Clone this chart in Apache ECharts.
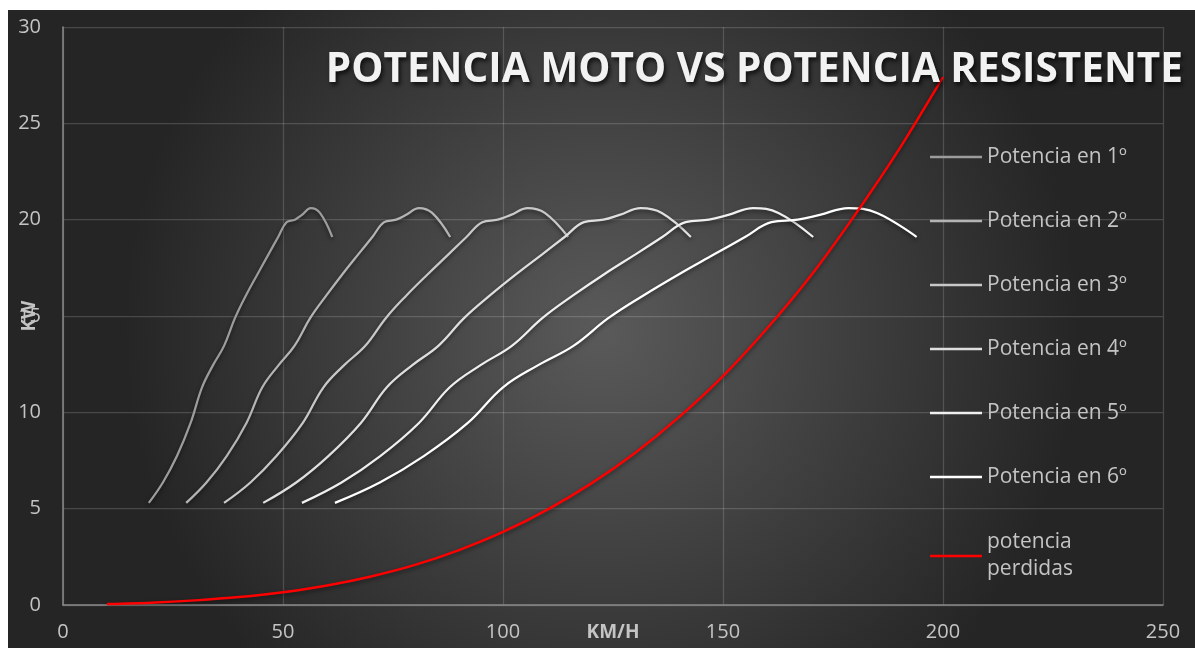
<!DOCTYPE html>
<html>
<head>
<meta charset="utf-8">
<script src="https://cdn.jsdelivr.net/npm/echarts@6/dist/echarts.min.js"></script>
<style>
  html, body { margin: 0; padding: 0; background: #ffffff; }
  #chart { position: absolute; left: 8px; top: 10px; width: 1187px; height: 638px; }
</style>
</head>
<body>
<div id="chart"></div>
<script>
// Engine power (kW) along the rev range, shared by every gear
const potenciaKW = [5.3, 6.36, 7.73, 9.45, 11.3, 12.45, 13.45, 14.9, 16.08, 17.17, 18.2, 19.1, 19.87, 20.0, 20.25, 20.6, 20.35, 19.1];

// Road speed (km/h) at each of those points, per gear
const velocidad1 = [19.5, 22.7, 25.9, 29.0, 31.6, 34.1, 36.6, 39.1, 41.6, 44.2, 46.7, 48.9, 50.8, 52.7, 54.3, 56.3, 58.4, 61.2];
const velocidad2 = [28.0, 32.6, 37.2, 41.7, 45.3, 49.0, 52.6, 56.2, 59.9, 63.5, 67.1, 70.3, 73.0, 75.7, 78.0, 80.9, 83.9, 88.0];
const velocidad3 = [36.6, 42.6, 48.5, 54.5, 59.2, 63.9, 68.7, 73.4, 78.1, 82.9, 87.6, 91.7, 95.3, 98.8, 101.8, 105.6, 109.5, 114.8];
const velocidad4 = [45.5, 53.0, 60.3, 67.7, 73.6, 79.4, 85.3, 91.2, 97.1, 103.0, 108.9, 114.0, 118.4, 122.8, 126.5, 131.3, 136.1, 142.7];
const velocidad5 = [54.3, 63.3, 72.1, 80.9, 87.9, 94.9, 102.0, 109.0, 116.0, 123.0, 130.1, 136.2, 141.5, 146.8, 151.2, 156.9, 162.6, 170.5];
const velocidad6 = [61.8, 72.0, 82.0, 92.0, 100.0, 108.0, 116.0, 124.0, 132.0, 140.0, 148.0, 155.0, 161.0, 167.0, 172.0, 178.5, 185.0, 194.0];

// Resistive power (kW) against speed (km/h)
const perdidasKMH = [10, 20, 30, 40, 50, 60, 70, 80, 90, 100, 110, 120, 130, 140, 150, 160, 170, 180, 190, 200];
const perdidasKW = [0.05, 0.12, 0.24, 0.41, 0.66, 1.01, 1.48, 2.08, 2.85, 3.79, 4.94, 6.30, 7.89, 9.75, 11.88, 14.35, 17.1, 20.25, 23.65, 27.4];

const nombresMarcha = ['Potencia en 1º', 'Potencia en 2º', 'Potencia en 3º', 'Potencia en 4º', 'Potencia en 5º', 'Potencia en 6º'];
const nombrePerdidas = 'potencia perdidas';
const velocidades = [velocidad1, velocidad2, velocidad3, velocidad4, velocidad5, velocidad6];
const coloresMarcha = ['#9c9c9c', '#b4b4b4', '#c8c8c8', '#dedede', '#efefef', '#ffffff'];

const labelColor = '#c4c4c4';
const fontBase = '"Open Sans", "Noto Sans", sans-serif';

const seriesMarchas = velocidades.map((vel, g) => ({
  name: nombresMarcha[g],
  type: 'line',
  smooth: 0.4,
  symbol: 'none',
  data: vel.map((v, i) => [v, potenciaKW[i]]),
  lineStyle: {
    width: 2.25,
    color: coloresMarcha[g],
    shadowColor: 'rgba(0,0,0,0.55)',
    shadowBlur: 4,
    shadowOffsetY: 2
  },
  itemStyle: { color: coloresMarcha[g] },
  z: 3
}));

const seriePerdidas = {
  name: nombrePerdidas,
  type: 'line',
  smooth: 0.3,
  symbol: 'none',
  data: perdidasKMH.map((v, i) => [v, perdidasKW[i]]),
  lineStyle: {
    width: 2.5,
    color: '#ff0000',
    shadowColor: 'rgba(0,0,0,0.5)',
    shadowBlur: 4,
    shadowOffsetY: 2
  },
  itemStyle: { color: '#ff0000' },
  z: 4
};

const chart = echarts.init(document.getElementById('chart'), null, { renderer: 'canvas' });

chart.setOption({
  animation: false,
  backgroundColor: new echarts.graphic.RadialGradient(0.5, 0.5, 0.75, [
    { offset: 0, color: '#5a5a5a' },
    { offset: 1, color: '#252525' }
  ]),
  title: {
    text: 'POTENCIA MOTO VS POTENCIA RESISTENTE',
    right: 7,
    top: 33,
    textStyle: {
      fontFamily: fontBase,
      fontWeight: 'bold',
      fontSize: 40.5,
      lineHeight: 44,
      color: '#f2f2f2',
      textShadowColor: 'rgba(0,0,0,0.7)',
      textShadowBlur: 4,
      textShadowOffsetX: 2,
      textShadowOffsetY: 3
    }
  },
  grid: { left: 55, right: 32, top: 17, bottom: 43, containLabel: false, outerBoundsMode: 'none' },
  legend: {
    orient: 'vertical',
    left: 917,
    top: 130,
    icon: 'rect',
    itemWidth: 52,
    itemHeight: 2.5,
    itemGap: 40,
    textStyle: { color: labelColor, fontFamily: fontBase, fontSize: 21, lineHeight: 24 },
    data: nombresMarcha.map(n => ({ name: n })).concat([
      { name: nombrePerdidas, textStyle: { lineHeight: 27 } }
    ]),
    formatter: name => name === nombrePerdidas ? 'potencia\nperdidas' : name
  },
  xAxis: {
    type: 'value',
    min: 0,
    max: 250,
    interval: 50,
    name: 'KM/H',
    nameLocation: 'middle',
    nameGap: 18,
    nameMoveOverlap: false,
    nameTextStyle: { color: labelColor, fontFamily: fontBase, fontWeight: 'bold', fontSize: 19, verticalAlign: 'top' },
    axisLine: { show: true, lineStyle: { color: '#8a8a8a', width: 1.5 } },
    axisTick: { show: false },
    axisLabel: { color: labelColor, fontFamily: fontBase, fontSize: 20, margin: 17 },
    splitLine: { show: true, lineStyle: { color: 'rgba(255,255,255,0.16)', width: 1.25 } }
  },
  yAxis: {
    type: 'value',
    min: 0,
    max: 30,
    interval: 5,
    name: 'KW',
    nameLocation: 'middle',
    nameGap: 24,
    nameRotate: 90,
    nameMoveOverlap: false,
    nameTextStyle: { color: labelColor, fontFamily: fontBase, fontWeight: 'bold', fontSize: 19 },
    axisLine: { show: true, lineStyle: { color: '#8a8a8a', width: 1.5 } },
    axisTick: { show: false },
    axisLabel: { color: labelColor, fontFamily: fontBase, fontSize: 20, margin: 22 },
    splitLine: { show: true, lineStyle: { color: 'rgba(255,255,255,0.16)', width: 1.25 } }
  },
  series: seriesMarchas.concat([seriePerdidas])
});
</script>
</body>
</html>
